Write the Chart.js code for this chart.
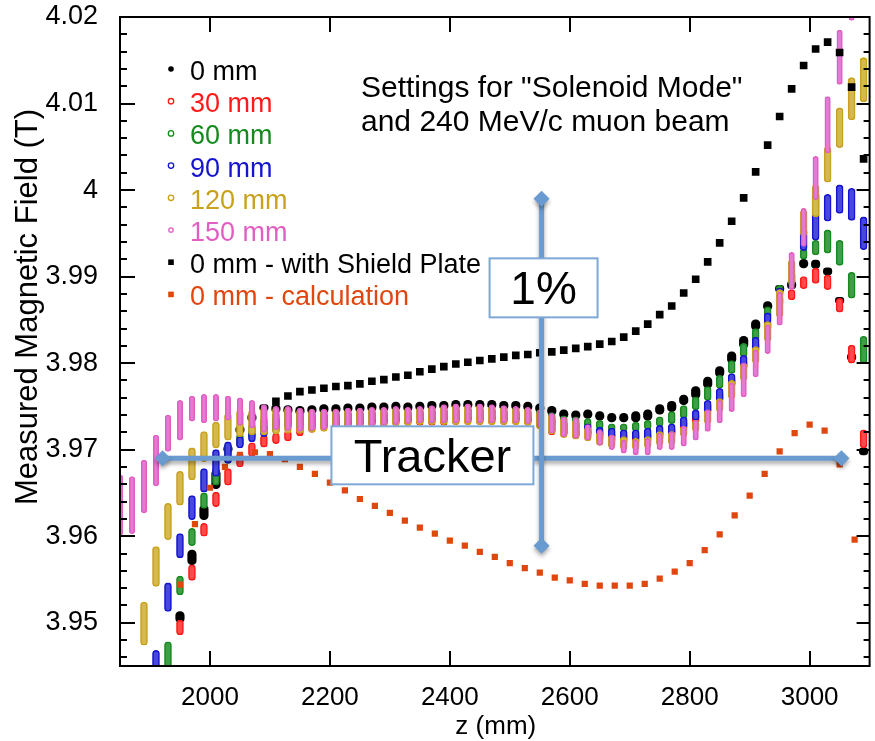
<!DOCTYPE html>
<html>
<head>
<meta charset="utf-8">
<script src="https://cdn.jsdelivr.net/npm/chart.js@4.4.1/dist/chart.umd.min.js"></script>
<style>
  html, body { margin: 0; padding: 0; background: #fff; }
  #wrap { width: 875px; height: 741px; }
</style>
</head>
<body>
<div id="wrap"><canvas id="c" width="875" height="741"></canvas></div>
<script>
// z positions of the measured columns (mm)
const zMeas = [
  1850,1870,1890,1910,1930,1950,1970,1990,2010,2030,
  2050,2070,2090,2110,2130,2150,2170,2190,2210,2230,
  2250,2270,2290,2310,2330,2350,2370,2390,2410,2430,
  2450,2470,2490,2510,2530,2550,2570,2590,2610,2630,
  2650,2670,2690,2710,2730,2750,2770,2790,2810,2830,
  2850,2870,2890,2910,2930,2950,2970,2990,3010,3030,
  3050,3070,3090
];

// each radius: lowest and highest reading at every z (T)
const r0Lo = [
  null,null,null,null,null,3.9500,3.9567,3.9619,3.9655,3.9696,
  3.9719,3.9733,3.9745,3.9743,3.9741,3.9740,3.9741,3.9742,3.9742,3.9743,
  3.9743,3.9744,3.9744,3.9745,3.9744,3.9745,3.9746,3.9746,3.9747,3.9747,
  3.9747,3.9747,3.9746,3.9746,3.9745,3.9743,3.9740,3.9736,3.9735,3.9736,
  3.9734,3.9732,3.9732,3.9732,3.9734,3.9741,3.9744,3.9752,3.9759,3.9771,
  3.9784,3.9800,3.9817,3.9838,3.9861,3.9882,3.9886,3.9910,3.9910,3.9902,
  3.9869,3.9803,3.9694
];
const r0Hi = [
  null,null,null,null,null,3.9513,3.9584,3.9636,3.9677,3.9706,
  3.9727,3.9741,3.9752,3.9752,3.9751,3.9750,3.9751,3.9752,3.9752,3.9753,
  3.9753,3.9754,3.9754,3.9755,3.9754,3.9755,3.9756,3.9756,3.9757,3.9757,
  3.9757,3.9757,3.9756,3.9756,3.9755,3.9753,3.9750,3.9746,3.9745,3.9746,
  3.9744,3.9742,3.9742,3.9744,3.9746,3.9752,3.9756,3.9763,3.9773,3.9784,
  3.9796,3.9813,3.9831,3.9850,3.9871,3.9890,3.9895,3.9920,3.9919,3.9910,
  3.9876,3.9811,3.9702
];
const r30Lo = [
  null,null,null,null,null,3.9486,3.9549,3.9600,3.9634,3.9659,
  3.9680,3.9692,3.9703,3.9707,3.9710,3.9716,3.9720,3.9722,3.9724,3.9725,
  3.9726,3.9727,3.9727,3.9728,3.9728,3.9728,3.9728,3.9728,3.9729,3.9729,
  3.9729,3.9729,3.9729,3.9729,3.9728,3.9725,3.9717,3.9715,3.9713,3.9712,
  3.9710,3.9708,3.9707,3.9707,3.9708,3.9711,3.9714,3.9722,3.9730,3.9742,
  3.9755,3.9772,3.9792,3.9812,3.9838,3.9866,3.9873,3.9886,3.9892,3.9885,
  3.9859,3.9800,3.9702
];
const r30Hi = [
  null,null,null,null,null,3.9503,3.9567,3.9615,3.9651,3.9678,
  3.9696,3.9708,3.9717,3.9719,3.9722,3.9728,3.9731,3.9733,3.9735,3.9736,
  3.9737,3.9738,3.9738,3.9739,3.9739,3.9739,3.9739,3.9739,3.9740,3.9740,
  3.9740,3.9740,3.9740,3.9740,3.9739,3.9736,3.9729,3.9727,3.9725,3.9724,
  3.9722,3.9720,3.9719,3.9719,3.9720,3.9723,3.9726,3.9734,3.9742,3.9754,
  3.9767,3.9784,3.9804,3.9824,3.9850,3.9878,3.9885,3.9900,3.9910,3.9902,
  3.9875,3.9821,3.9723
];
const r60Lo = [
  null,null,null,null,3.9440,3.9532,3.9589,3.9632,3.9659,3.9684,
  3.9703,3.9712,3.9720,3.9724,3.9726,3.9725,3.9726,3.9727,3.9727,3.9728,
  3.9728,3.9729,3.9729,3.9730,3.9729,3.9730,3.9731,3.9731,3.9732,3.9732,
  3.9732,3.9732,3.9731,3.9731,3.9730,3.9728,3.9725,3.9722,3.9722,3.9723,
  3.9723,3.9721,3.9721,3.9721,3.9723,3.9727,3.9730,3.9736,3.9746,3.9757,
  3.9771,3.9788,3.9807,3.9826,3.9852,3.9881,3.9890,3.9920,3.9925,3.9927,
  3.9913,3.9875,3.9800
];
const r60Hi = [
  null,null,null,null,3.9478,3.9554,3.9609,3.9650,3.9680,3.9707,
  3.9719,3.9730,3.9738,3.9743,3.9744,3.9743,3.9744,3.9745,3.9745,3.9746,
  3.9746,3.9747,3.9747,3.9748,3.9747,3.9748,3.9749,3.9749,3.9750,3.9750,
  3.9750,3.9750,3.9749,3.9749,3.9748,3.9746,3.9743,3.9739,3.9738,3.9736,
  3.9734,3.9730,3.9730,3.9732,3.9734,3.9738,3.9744,3.9751,3.9761,3.9773,
  3.9786,3.9803,3.9823,3.9840,3.9865,3.9890,3.9900,3.9932,3.9942,3.9954,
  3.9942,3.9905,3.9831
];
const r90Lo = [
  null,null,null,3.9440,3.9513,3.9575,3.9619,3.9651,3.9669,3.9684,
  3.9702,3.9709,3.9715,3.9719,3.9723,3.9722,3.9723,3.9724,3.9725,3.9726,
  3.9727,3.9728,3.9729,3.9730,3.9731,3.9732,3.9732,3.9732,3.9732,3.9732,
  3.9732,3.9732,3.9732,3.9732,3.9731,3.9727,3.9720,3.9716,3.9714,3.9716,
  3.9715,3.9713,3.9711,3.9711,3.9711,3.9715,3.9717,3.9725,3.9734,3.9742,
  3.9755,3.9773,3.9794,3.9815,3.9846,3.9877,3.9895,3.9930,3.9942,3.9964,
  3.9973,3.9965,3.9931
];
const r90Hi = [
  null,null,null,3.9468,3.9546,3.9603,3.9647,3.9678,3.9700,3.9709,
  3.9715,3.9721,3.9730,3.9738,3.9746,3.9744,3.9743,3.9743,3.9743,3.9744,
  3.9744,3.9745,3.9745,3.9746,3.9745,3.9746,3.9747,3.9748,3.9749,3.9749,
  3.9749,3.9748,3.9747,3.9746,3.9745,3.9742,3.9738,3.9734,3.9733,3.9730,
  3.9726,3.9725,3.9723,3.9723,3.9725,3.9728,3.9730,3.9738,3.9746,3.9757,
  3.9771,3.9788,3.9809,3.9830,3.9858,3.9887,3.9905,3.9955,3.9997,3.9995,
  4.0006,4.0002,3.9969
];
const r120Lo = [
  null,null,3.9474,3.9542,3.9596,3.9636,3.9665,3.9686,3.9702,3.9711,
  3.9715,3.9717,3.9717,3.9718,3.9719,3.9719,3.9720,3.9721,3.9722,3.9723,
  3.9724,3.9725,3.9726,3.9727,3.9728,3.9729,3.9729,3.9729,3.9729,3.9729,
  3.9729,3.9729,3.9729,3.9729,3.9728,3.9724,3.9718,3.9714,3.9712,3.9710,
  3.9705,3.9702,3.9700,3.9700,3.9702,3.9705,3.9706,3.9715,3.9721,3.9730,
  3.9744,3.9759,3.9780,3.9800,3.9825,3.9853,3.9892,3.9947,3.9969,4.0009,
  4.0049,4.0081,4.0102
];
const r120Hi = [
  null,null,3.9524,3.9588,3.9638,3.9675,3.9702,3.9721,3.9732,3.9742,
  3.9746,3.9746,3.9749,3.9749,3.9749,3.9747,3.9746,3.9746,3.9746,3.9747,
  3.9747,3.9748,3.9748,3.9749,3.9748,3.9749,3.9750,3.9751,3.9752,3.9752,
  3.9752,3.9751,3.9750,3.9749,3.9748,3.9745,3.9741,3.9737,3.9735,3.9726,
  3.9721,3.9717,3.9715,3.9713,3.9715,3.9721,3.9721,3.9727,3.9734,3.9746,
  3.9759,3.9780,3.9800,3.9819,3.9848,3.9885,3.9919,3.9977,4.0006,4.0050,
  4.0095,4.0130,4.0153
];
const r150Lo = [
  3.9601,3.9603,3.9627,3.9658,3.9698,3.9711,3.9733,3.9731,3.9733,3.9734,
  3.9728,3.9725,3.9720,3.9723,3.9722,3.9721,3.9722,3.9723,3.9724,3.9725,
  3.9726,3.9727,3.9728,3.9729,3.9730,3.9731,3.9731,3.9731,3.9731,3.9731,
  3.9731,3.9731,3.9731,3.9731,3.9730,3.9726,3.9719,3.9715,3.9713,3.9711,
  3.9705,3.9700,3.9696,3.9694,3.9694,3.9700,3.9700,3.9704,3.9711,3.9721,
  3.9731,3.9744,3.9761,3.9784,3.9811,3.9844,3.9885,3.9935,3.9989,4.0043,
  4.0122,4.0196,null
];
const r150Hi = [
  3.9671,3.9669,3.9688,3.9717,3.9740,3.9757,3.9762,3.9764,3.9764,3.9762,
  3.9760,3.9757,3.9752,3.9750,3.9750,3.9748,3.9747,3.9747,3.9747,3.9748,
  3.9748,3.9749,3.9749,3.9750,3.9749,3.9750,3.9751,3.9752,3.9753,3.9753,
  3.9753,3.9752,3.9751,3.9750,3.9749,3.9746,3.9742,3.9738,3.9737,3.9729,
  3.9723,3.9717,3.9711,3.9711,3.9713,3.9719,3.9721,3.9727,3.9734,3.9746,
  3.9757,3.9777,3.9800,3.9815,3.9844,3.9882,3.9928,3.9979,4.0039,4.0108,
  4.0185,4.0250,null
];

// 0 mm with shield plate
const zShield = [
  2110,2130,2150,2170,2190,2210,2230,2250,2270,2290,
  2310,2330,2350,2370,2390,2410,2430,2450,2470,2490,
  2510,2530,2550,2570,2590,2610,2630,2650,2670,2690,
  2710,2730,2750,2770,2790,2810,2830,2850,2870,2890,
  2910,2930,2950,2970,2990,3010,3030,3050,3070,3090
];
const bShield = [
  3.9756,3.9762,3.9767,3.9769,3.9771,3.9773,3.9774,3.9776,3.9779,3.9781,
  3.9784,3.9786,3.9790,3.9793,3.9796,3.9799,3.9801,3.9803,3.9805,3.9807,
  3.9809,3.9810,3.9812,3.9813,3.9815,3.9817,3.9819,3.9822,3.9825,3.9830,
  3.9837,3.9845,3.9856,3.9866,3.9881,3.9897,3.9917,3.9939,3.9964,3.9991,
  4.0021,4.0052,4.0085,4.0117,4.0144,4.0163,4.0171,4.0159,4.0119,4.0036
];

// 0 mm calculation
const zCalc = [
  1950,1975,2000,2025,2050,2075,2100,2125,2150,2175,
  2200,2225,2250,2275,2300,2325,2350,2375,2400,2425,
  2450,2475,2500,2525,2550,2575,2600,2625,2650,2675,
  2700,2725,2750,2775,2800,2825,2850,2875,2900,2925,
  2950,2975,3000,3025,3050,3075
];
const bCalc = [
  3.9544,3.9614,3.9656,3.9680,3.9694,3.9697,3.9695,3.9689,3.9680,3.9672,
  3.9662,3.9653,3.9643,3.9635,3.9627,3.9618,3.9610,3.9603,3.9595,3.9589,
  3.9582,3.9576,3.9569,3.9563,3.9558,3.9552,3.9549,3.9545,3.9543,3.9543,
  3.9543,3.9545,3.9551,3.9559,3.9569,3.9584,3.9602,3.9624,3.9647,3.9672,
  3.9698,3.9719,3.9729,3.9722,3.9683,3.9596
];

const seriesNames = ['0 mm', '30 mm', '60 mm', '90 mm', '120 mm', '150 mm',
  '0 mm - with Shield Plate', '0 mm - calculation'];
const seriesColors = ['#000000', '#ff1a1a', '#178a1f', '#1515d0', '#c9a21d', '#e05fc3', '#000000', '#e0470f'];
const seriesFills = ['#000000', '#ff4a4a', '#3f9f46', '#4848dc', '#d6b94e', '#e67ad2'];

// axes
const xRange = [1850, 3100];
const yRange = [3.945, 4.02];
const xTicks = [2000, 2200, 2400, 2600, 2800, 3000];
const yTicks = [3.95, 3.96, 3.97, 3.98, 3.99, 4, 4.01, 4.02];
const yMinor = 0.002;

// annotation anchors (data units)
const trackerArrow = { z0: 1921, z1: 3053, b: 3.9690, labelZ: 2371 };
const percentArrow = { z: 2553, b0: 3.9589, b1: 3.9990, labelB: 3.9887 };

const FONT = '"Liberation Sans", Arial, Helvetica, sans-serif';
Chart.defaults.font.family = FONT;

function cluster(i, lo, hi, width, order) {
  const data = [];
  zMeas.forEach((z, k) => {
    if (lo[k] != null) data.push({ x: z, y: [lo[k], hi[k]] });
  });
  return {
    type: 'bar',
    label: seriesNames[i],
    data,
    backgroundColor: seriesFills[i],
    borderColor: seriesColors[i],
    borderWidth: i === 0 ? 0 : 1.6,
    borderSkipped: false,
    borderRadius: 20,
    barThickness: width,
    grouped: false,
    order
  };
}

const datasets = [
  {
    type: 'scatter', label: seriesNames[7],
    data: zCalc.map((z, k) => ({ x: z, y: bCalc[k] })),
    pointStyle: 'rect', pointRadius: 4.4, pointBorderWidth: 0,
    backgroundColor: seriesColors[7], borderColor: seriesColors[7], order: 0
  },
  {
    type: 'scatter', label: seriesNames[6],
    data: zShield.map((z, k) => ({ x: z, y: bShield[k] })),
    pointStyle: 'rect', pointRadius: 5.4, pointBorderWidth: 0,
    backgroundColor: seriesColors[6], borderColor: seriesColors[6], order: 1
  },
  cluster(5, r150Lo, r150Hi, 5.5, 2),
  cluster(4, r120Lo, r120Hi, 7, 3),
  cluster(3, r90Lo, r90Hi, 7, 4),
  cluster(2, r60Lo, r60Hi, 7, 5),
  cluster(1, r30Lo, r30Hi, 7, 6),
  cluster(0, r0Lo, r0Hi, 8.5, 7)
];

function diamond(ctx, x, y, r) {
  ctx.beginPath();
  ctx.moveTo(x, y - r);
  ctx.lineTo(x + r, y);
  ctx.lineTo(x, y + r);
  ctx.lineTo(x - r, y);
  ctx.closePath();
  ctx.fill();
}

function labelBox(ctx, cx, cy, w, h, text, size) {
  ctx.fillStyle = '#ffffff';
  ctx.fillRect(cx - w / 2, cy - h / 2, w, h);
  ctx.strokeStyle = '#7ea8d6';
  ctx.lineWidth = 2;
  ctx.strokeRect(cx - w / 2, cy - h / 2, w, h);
  ctx.fillStyle = '#000';
  ctx.font = size + 'px ' + FONT;
  ctx.textAlign = 'center';
  ctx.textBaseline = 'alphabetic';
  ctx.fillText(text, cx, cy + size * 0.36);
}

const decorations = {
  id: 'decorations',
  afterDatasetsDraw(chart) {
    const { ctx, chartArea: a, scales: { x, y } } = chart;
    ctx.save();

    // frame with inward ticks on all sides
    ctx.strokeStyle = '#000';
    ctx.lineWidth = 2;
    ctx.strokeRect(a.left, a.top, a.right - a.left, a.bottom - a.top);
    ctx.beginPath();
    x.ticks.forEach(t => {
      const px = Math.round(x.getPixelForValue(t.value));
      ctx.moveTo(px, a.bottom); ctx.lineTo(px, a.bottom - 15);
      ctx.moveTo(px, a.top); ctx.lineTo(px, a.top + 15);
    });
    const kMin = Math.ceil(y.min / yMinor - 1e-6), kMax = Math.floor(y.max / yMinor + 1e-6);
    for (let k = kMin; k <= kMax; k++) {
      const py = Math.round(y.getPixelForValue(k * yMinor));
      const major = k % 5 === 0;
      ctx.moveTo(a.left, py); ctx.lineTo(a.left + (major ? 15 : 7), py);
      ctx.moveTo(a.right, py); ctx.lineTo(a.right - (major ? 13 : 6), py);
    }
    ctx.stroke();

    // legend
    ctx.font = '27px ' + FONT;
    ctx.textAlign = 'left';
    ctx.textBaseline = 'alphabetic';
    seriesNames.forEach((name, i) => {
      const base = 80 + i * 32.2;
      const mx = 171, my = base - 11;
      ctx.fillStyle = seriesColors[i];
      ctx.strokeStyle = seriesColors[i];
      if (i === 0) {
        ctx.beginPath(); ctx.arc(mx, my, 2.8, 0, Math.PI * 2); ctx.fill();
      } else if (i <= 5) {
        ctx.lineWidth = 1.3;
        ctx.beginPath(); ctx.arc(mx, my, i === 5 ? 2.2 : 2.7, 0, Math.PI * 2); ctx.stroke();
      } else {
        ctx.fillRect(mx - 2.8, my - 2.8, 5.6, 5.6);
      }
      ctx.fillText(name, 190, base);
    });

    // settings note
    ctx.fillStyle = '#000';
    ctx.font = '30px ' + FONT;
    ctx.fillText('Settings for "Solenoid Mode"', 361, 97);
    ctx.fillText('and 240 MeV/c muon beam', 361, 131);

    // tracker and 1% arrows
    const blue = '#6a9bd0';
    ctx.save();
    ctx.shadowColor = 'rgba(0,0,0,0.35)';
    ctx.shadowBlur = 4;
    ctx.shadowOffsetY = 3;
    ctx.strokeStyle = blue;
    ctx.fillStyle = blue;
    ctx.lineWidth = 5;
    const hy = y.getPixelForValue(trackerArrow.b);
    const hx0 = x.getPixelForValue(trackerArrow.z0), hx1 = x.getPixelForValue(trackerArrow.z1);
    ctx.beginPath(); ctx.moveTo(hx0, hy); ctx.lineTo(hx1, hy); ctx.stroke();
    diamond(ctx, hx0, hy, 8);
    diamond(ctx, hx1, hy, 8);
    const vx = x.getPixelForValue(percentArrow.z);
    const vy0 = y.getPixelForValue(percentArrow.b0), vy1 = y.getPixelForValue(percentArrow.b1);
    ctx.beginPath(); ctx.moveTo(vx, vy0); ctx.lineTo(vx, vy1); ctx.stroke();
    diamond(ctx, vx, vy0, 8);
    diamond(ctx, vx, vy1, 8);
    ctx.restore();

    labelBox(ctx, x.getPixelForValue(trackerArrow.labelZ), hy - 3, 202, 58, 'Tracker', 47);
    labelBox(ctx, vx + 2, y.getPixelForValue(percentArrow.labelB), 108, 59, '1%', 46);

    // axis titles
    ctx.fillStyle = '#000';
    ctx.font = '26px ' + FONT;
    ctx.textAlign = 'center';
    ctx.fillText('z (mm)', (a.left + a.right) / 2 + 1, 734);
    ctx.save();
    ctx.translate(28, 307);
    ctx.rotate(-Math.PI / 2);
    ctx.textBaseline = 'middle';
    ctx.font = '31px ' + FONT;
    ctx.fillText('Measured Magnetic Field (T)', 0, 0);
    ctx.restore();

    ctx.restore();
  }
};

new Chart(document.getElementById('c'), {
  type: 'bar',
  data: { datasets },
  options: {
    responsive: false,
    animation: false,
    events: [],
    layout: { padding: { left: 0, top: 17, right: 2, bottom: 0 } },
    plugins: { legend: { display: false }, tooltip: { enabled: false } },
    scales: {
      x: {
        type: 'linear', offset: false, min: xRange[0], max: xRange[1],
        grid: { display: false, drawTicks: false }, border: { display: false },
        ticks: {
          color: '#000', font: { size: 26 }, padding: 16, maxRotation: 0, autoSkip: false,
          callback: v => String(v)
        },
        afterBuildTicks: s => { s.ticks = xTicks.map(v => ({ value: v })); },
        afterFit: s => { s.height = 75; s.paddingLeft = 0; s.paddingRight = 0; }
      },
      y: {
        type: 'linear', beginAtZero: false, min: yRange[0], max: yRange[1],
        grid: { display: false, drawTicks: false }, border: { display: false },
        ticks: {
          color: '#000', font: { size: 27 }, padding: 22, autoSkip: false,
          callback: v => String(v)
        },
        afterBuildTicks: s => { s.ticks = yTicks.map(v => ({ value: v })); },
        afterFit: s => { s.width = 120; s.paddingTop = 0; s.paddingBottom = 0; }
      }
    }
  },
  plugins: [decorations]
});
</script>
</body>
</html>
